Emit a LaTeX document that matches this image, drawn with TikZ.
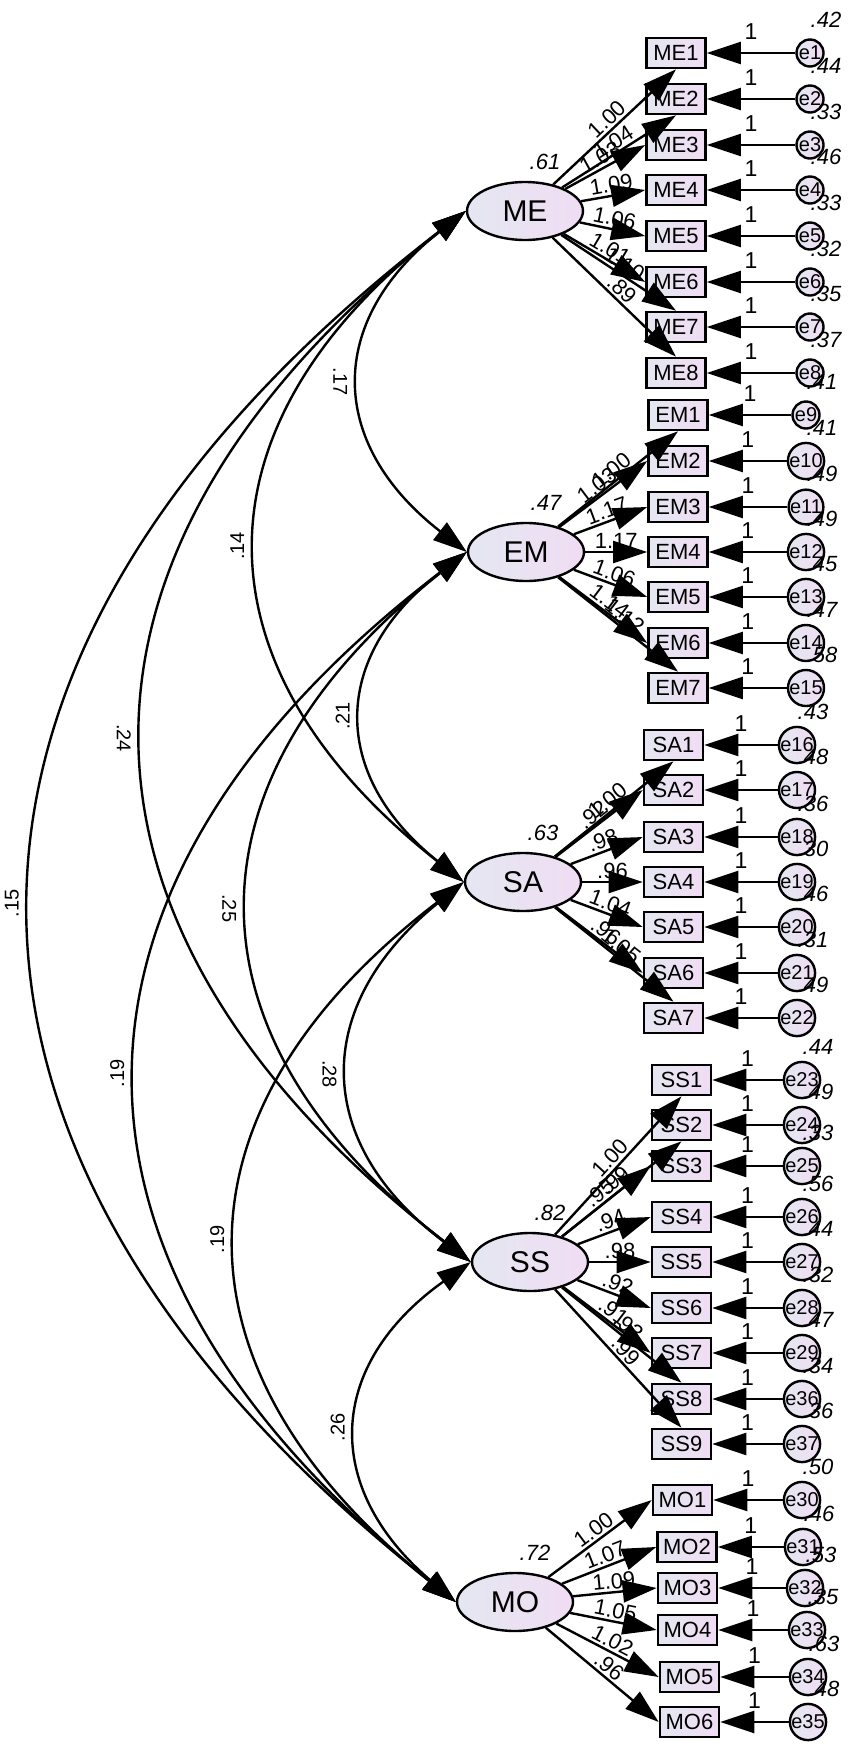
\documentclass[tikz,border=0pt]{standalone}
\usepackage{fontspec}
\setmainfont{Liberation Sans}
\usetikzlibrary{arrows.meta,shapes.geometric}
\definecolor{shL}{RGB}{228,231,241}
\definecolor{shR}{RGB}{240,221,243}
\def\itemlist{ME/1/676/53/810/1/.42/1.00/south,ME/2/676/99/810/2/.44/1.04/south,ME/3/676/145/810/3/.33/1.03/west,ME/4/676/190/810/4/.46/1.09/west,ME/5/676/236/810/5/.33/1.06/west,ME/6/676/282/810/6/.32/1.01/west,ME/7/676/327/810/7/.35/1.10/north,ME/8/676/373/810/8/.37/.89/north,EM/1/678/415/806/9/.41/1.00/south,EM/2/678/461/806/10/.41/1.03/west,EM/3/678/507/806/11/.49/1.17/west,EM/4/678/552/806/12/.49/1.17/west,EM/5/678/597/806/13/.45/1.06/west,EM/6/678/643/806/14/.47/1.14/west,EM/7/678/688/806/15/.58/1.12/north,SA/1/673.5/745/797/16/.43/1.00/south,SA/2/673.5/790/797/17/.48/.92/west,SA/3/673.5/837/797/18/.36/.98/west,SA/4/673.5/882/797/19/.30/.96/west,SA/5/673.5/927/797/20/.46/1.04/west,SA/6/673.5/973/797/21/.31/.96/west,SA/7/673.5/1018/797/22/.49/1.05/north,SS/1/681.5/1080/802/23/.44/1.00/south,SS/2/681.5/1125/802/24/.49/.99/south,SS/3/681.5/1166/802/25/.33/.95/west,SS/4/681.5/1217/802/26/.56/.94/west,SS/5/681.5/1262/802/27/.44/.98/west,SS/6/681.5/1308/802/28/.32/.92/west,SS/7/681.5/1353/802/29/.47/.91/west,SS/8/681.5/1399/802/36/.34/.93/north,SS/9/681.5/1444/802/37/.36/.99/north,MO/1/682.5/1500/802/30/.50/1.00/west,MO/2/687/1547/803/31/.46/1.07/west,MO/3/687.5/1588/805/32/.53/1.09/west,MO/4/687.5/1630/807/33/.35/1.05/west,MO/5/689.5/1677/808/34/.63/1.02/west,MO/6/689.5/1722/808/35/.48/.96/west}
\begin{document}
\begin{tikzpicture}[x=0.5pt,y=-0.5pt,
  latent/.style={ellipse,draw,line width=1.2pt,minimum width=58pt,minimum height=29pt,inner sep=0pt,left color=shL,right color=shR,font=\fontsize{15}{15}\selectfont},
  ind/.style={rectangle,draw,line width=1.3pt,minimum width=29.5pt,minimum height=15pt,inner sep=0pt,left color=shL,right color=shR,font=\fontsize{11}{11}\selectfont},
  err/.style={circle,draw,line width=1.2pt,minimum size=13.5pt,inner sep=0pt,left color=shL,right color=shR,font=\fontsize{10}{10}\selectfont},
  tip/.tip={Triangle[length=17pt,width=11pt]},
  arr/.style={line width=1.2pt,-tip},
  covarr/.style={line width=1.2pt,tip-tip},
  covbend/.style={bend right=52,looseness=1.33},
  est/.style={font=\fontsize{11}{11}\selectfont\itshape,inner sep=1pt},
  lod/.style={font=\fontsize{11}{11}\selectfont,inner sep=1pt,sloped,above=0pt},
  one/.style={font=\fontsize{11.5}{11.5}\selectfont,inner sep=1pt,above=5pt},
  covlab/.style={font=\fontsize{10}{10}\selectfont,inner sep=0pt}
]
\fill[white] (0,0) rectangle (851,1747);
\useasboundingbox (0,0) rectangle (851,1747);

% latent variables
\node[latent] (ME) at (525,211) {ME};
\node[latent] (EM) at (526,552) {EM};
\node[latent] (SA) at (523,882) {SA};
\node[latent] (SS) at (530,1262) {SS};
\node[latent] (MO) at (515,1602) {MO};

% covariance arcs
\draw[covarr] (ME.west) to[covbend] coordinate[pos=.5] (c1) (EM.west);
\draw[covarr] (ME.west) to[covbend] coordinate[pos=.5] (c2) (SA.west);
\draw[covarr] (ME.west) to[covbend] coordinate[pos=.5] (c3) (SS.west);
\draw[covarr] (ME.west) to[covbend] coordinate[pos=.5] (c4) (MO.west);
\draw[covarr] (EM.west) to[covbend] coordinate[pos=.5] (c5) (SA.west);
\draw[covarr] (EM.west) to[covbend] coordinate[pos=.5] (c6) (SS.west);
\draw[covarr] (EM.west) to[covbend] coordinate[pos=.5] (c7) (MO.west);
\draw[covarr] (SA.west) to[covbend] coordinate[pos=.5] (c8) (SS.west);
\draw[covarr] (SA.west) to[covbend] coordinate[pos=.5] (c9) (MO.west);
\draw[covarr] (SS.west) to[covbend] coordinate[pos=.5] (c10) (MO.west);

\node[covlab,rotate=-90] at ([xshift=-10.5pt]c1) {.17};
\node[covlab,rotate=90] at ([xshift=-10.5pt]c2) {.14};
\node[covlab,rotate=-90] at ([xshift=-10.5pt]c3) {.24};
\node[covlab,rotate=90] at ([xshift=-10.5pt]c4) {.15};
\node[covlab,rotate=90] at ([xshift=-10.5pt]c5) {.21};
\node[covlab,rotate=-90] at ([xshift=-10.5pt]c6) {.25};
\node[covlab,rotate=90] at ([xshift=-10.5pt]c7) {.19};
\node[covlab,rotate=-90] at ([xshift=-10.5pt]c8) {.28};
\node[covlab,rotate=90] at ([xshift=-10.5pt]c9) {.19};
\node[covlab,rotate=90] at ([xshift=-10.5pt]c10) {.26};

% latent variances
\node[est] at ([shift={(20,-49)}]ME) {.61};
\node[est] at ([shift={(20,-49)}]EM) {.47};
\node[est] at ([shift={(20,-49)}]SA) {.63};
\node[est] at ([shift={(20,-49)}]SS) {.82};
\node[est] at ([shift={(20,-49)}]MO) {.72};

% indicators and errors
\foreach \g/\i/\bx/\y/\ex/\e/\ev/\ld/\an in \itemlist {
  \node[ind] (\g\i) at (\bx,\y) {\g\i};
  \node[err] (e\e) at (\ex,\y) {e\e};
}
% arrows
\foreach \g/\i/\bx/\y/\ex/\e/\ev/\ld/\an in \itemlist {
  \draw[arr] (\g) -- (\g\i.\an) node[lod,midway] {\ld};
  \draw[arr] (e\e) -- (\g\i.east) node[one,midway] {1};
}
% error variances
\foreach \g/\i/\bx/\y/\ex/\e/\ev/\ld/\an in \itemlist {
  \node[est] at ([shift={(16,-33)}]e\e) {\ev};
}
\end{tikzpicture}
\end{document}
